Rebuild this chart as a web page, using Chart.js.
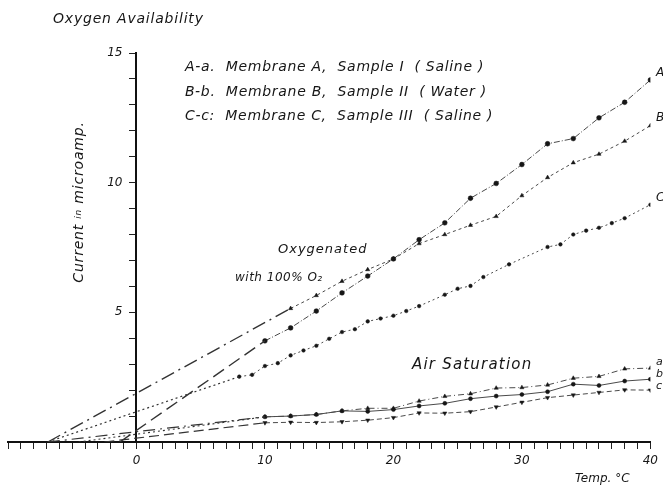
<!DOCTYPE html>
<html><head><meta charset="utf-8">
<script src="https://cdn.jsdelivr.net/npm/chart.js@4.4.1/dist/chart.umd.min.js"></script>
<style>html,body{margin:0;padding:0;background:#fff;}#wrap{width:663px;height:492px;position:relative;}</style>
</head><body><div id="wrap"><canvas id="c"></canvas></div>
<script>
// ---- Oxygenated with 100% O2 (Temp °C -> current µA) ----
const oxyTempsA = [10,12,14,16,18,20,22,24,26,28,30,32,34,36,38,40];
const oxyCurrentA = [3.9,4.4,5.05,5.75,6.4,7.06,7.8,8.45,9.4,9.97,10.7,11.5,11.7,12.5,13.1,13.96];
const oxyTempsB = [12,14,16,18,20,22,24,26,28,30,32,34,36,38,40];
const oxyCurrentB = [5.15,5.65,6.2,6.65,7.06,7.65,8.0,8.36,8.7,9.5,10.2,10.77,11.1,11.6,12.2];
const oxyTempsC = [8,9,10,11,12,13,14,15,16,17,18,19,20,21,22,24,25,26,27,29,32,33,34,35,36,37,38,40];
const oxyCurrentC = [2.52,2.59,2.93,3.04,3.34,3.53,3.71,3.98,4.24,4.35,4.65,4.76,4.87,5.05,5.24,5.68,5.91,6.02,6.36,6.85,7.52,7.62,8.0,8.15,8.26,8.44,8.63,9.15];

// ---- Air saturation ----
const airTemps = [10,12,14,16,18,20,22,24,26,28,30,32,34,36,38,40];
const airCurrentA = [0.97,1.0,1.06,1.2,1.3,1.3,1.58,1.76,1.86,2.08,2.1,2.2,2.46,2.53,2.82,2.85];
const airCurrentB = [0.97,1.0,1.06,1.2,1.18,1.25,1.39,1.49,1.67,1.77,1.83,1.94,2.23,2.18,2.35,2.42];
const airCurrentC = [0.74,0.76,0.75,0.78,0.84,0.94,1.12,1.11,1.17,1.35,1.53,1.71,1.81,1.91,2.01,2.0];

// ---- Extrapolated lines (to zero current) ----
const extrapOxyATemps = [-1.3, 10];  const extrapOxyACurrent = [0, 3.9];
const extrapOxyBTemps = [-6.9, 12];  const extrapOxyBCurrent = [0, 5.15];
const extrapOxyCTemps = [-6.9, 8];   const extrapOxyCCurrent = [0, 2.52];
const extrapAirATemps = [-6.9, 10];  const extrapAirACurrent = [0, 0.97];
const extrapAirBTemps = [-4.5, 10];  const extrapAirBCurrent = [0, 0.97];
const extrapAirCTemps = [-2.5, 10];  const extrapAirCCurrent = [0, 0.74];

// ---- Axis tick labels ----
const xTickLabels = [0, 10, 20, 30, 40];
const yTickLabels = [5, 10, 15];

const pts = (xs, ys) => xs.map((x, i) => ({x, y: ys[i]}));
const INK = '#161616';
const FONT = '"DejaVu Sans", sans-serif';

function series(xs, ys, style, radius, dash, rot) {
  return { data: pts(xs, ys), showLine: true, borderColor: '#4a4a4a', borderWidth: 1,
    borderDash: dash, pointStyle: style, pointRadius: radius, pointRotation: rot || 0,
    pointBackgroundColor: INK, pointBorderColor: INK, pointBorderWidth: 0.5 };
}
function extrap(xs, ys, dash, w) {
  return { data: pts(xs, ys), showLine: true, borderColor: '#333', borderWidth: w,
    borderDash: dash, pointRadius: 0 };
}

const datasets = [
  extrap(extrapOxyATemps, extrapOxyACurrent, [13, 6], 1.4),
  extrap(extrapOxyBTemps, extrapOxyBCurrent, [14, 5, 2, 5], 1.4),
  extrap(extrapOxyCTemps, extrapOxyCCurrent, [2, 3], 1.2),
  extrap(extrapAirATemps, extrapAirACurrent, [12, 5, 2, 5], 1.2),
  extrap(extrapAirBTemps, extrapAirBCurrent, [2, 3], 1.1),
  extrap(extrapAirCTemps, extrapAirCCurrent, [10, 5], 1.2),
  series(oxyTempsA, oxyCurrentA, 'circle', 2.4, [6, 2, 1, 2]),
  series(oxyTempsB, oxyCurrentB, 'triangle', 2.4, [3, 3]),
  series(oxyTempsC, oxyCurrentC, 'circle', 1.8, [2, 3]),
  series(airTemps, airCurrentA, 'triangle', 2.4, [6, 3, 1, 3]),
  series(airTemps, airCurrentB, 'circle', 2.0, []),
  series(airTemps, airCurrentC, 'triangle', 2.4, [5, 3], 180),
];

const annotations = [
  {text: 'Oxygen Availability', x: 53, y: 19, size: 14, sp: 0.8},
  {text: 'A-a.  Membrane A,  Sample I  ( Saline )', x: 185, y: 67, size: 14, sp: 0.7},
  {text: 'B-b.  Membrane B,  Sample II  ( Water )', x: 185, y: 92, size: 14, sp: 0.7},
  {text: 'C-c:  Membrane C,  Sample III  ( Saline )', x: 185, y: 116, size: 14, sp: 0.7},
  {text: 'Oxygenated', x: 278, y: 250, size: 13, sp: 1},
  {text: 'with 100% O₂', x: 235, y: 278, size: 12, sp: 0.5},
  {text: 'Air Saturation', x: 412, y: 365, size: 15, sp: 1.2},
  {text: 'Temp. °C', x: 575, y: 479, size: 12, sp: 0},
  {text: 'A', x: 656, y: 73, size: 12, sp: 0},
  {text: 'B', x: 656, y: 118, size: 12, sp: 0},
  {text: 'C', x: 656, y: 198, size: 12, sp: 0},
  {text: 'a', x: 656, y: 362, size: 11, sp: 0},
  {text: 'b', x: 656, y: 374, size: 11, sp: 0},
  {text: 'c', x: 656, y: 386, size: 11, sp: 0},
];

const textPlugin = {
  id: 'freeText',
  afterDraw(chart) {
    const ctx = chart.ctx;
    const xs = chart.scales.x, ys = chart.scales.y;
    ctx.save();
    ctx.fillStyle = INK;
    ctx.textBaseline = 'middle';
    ctx.textAlign = 'left';
    for (const t of annotations) {
      ctx.font = `italic ${t.size}px ${FONT}`;
      ctx.letterSpacing = t.sp + 'px';
      ctx.fillText(t.text, t.x, t.y);
    }
    // y tick labels, placed through the scales
    ctx.textAlign = 'right';
    ctx.letterSpacing = '0px';
    ctx.font = `italic 12px ${FONT}`;
    const axisX = xs.getPixelForValue(0);
    for (const v of yTickLabels) ctx.fillText(String(v), axisX - 14, ys.getPixelForValue(v));
    // rotated y-axis title with small "in"
    ctx.textAlign = 'left';
    ctx.letterSpacing = '0.8px';
    const parts = [['Current ', 14], ['in', 9], [' microamp.', 14]];
    let total = 0;
    for (const [s, f] of parts) { ctx.font = `italic ${f}px ${FONT}`; total += ctx.measureText(s).width; }
    ctx.translate(79, 202);
    ctx.rotate(-Math.PI / 2);
    let cx = -total / 2;
    for (const [s, f] of parts) {
      ctx.font = `italic ${f}px ${FONT}`;
      ctx.fillText(s, cx, 0);
      cx += ctx.measureText(s).width;
    }
    ctx.restore();
  }
};

new Chart(document.getElementById('c'), {
  type: 'scatter',
  data: { datasets },
  plugins: [textPlugin],
  options: {
    responsive: true, maintainAspectRatio: false, animation: false,
    layout: { padding: { top: 53, left: 8, right: 10, bottom: 0 } },
    plugins: { legend: { display: false }, tooltip: { enabled: false }, title: { display: false } },
    scales: {
      x: {
        type: 'linear', min: -10, max: 40, position: 'bottom',
        afterFit: (s) => { s.height = 50; },
        ticks: { stepSize: 1, autoSkip: false, maxRotation: 0, padding: 5, color: INK,
          font: { family: FONT, style: 'italic', size: 12 },
          callback: (v) => xTickLabels.includes(v) ? String(v) : '' },
        grid: { drawOnChartArea: false, drawTicks: true, tickLength: 7, color: '#222', lineWidth: 1 },
        border: { display: true, color: '#111', width: 2 }
      },
      y: {
        type: 'linear', min: 0, max: 15, position: { x: 0 },
        ticks: { stepSize: 1, autoSkip: false, color: INK, callback: () => '' },
        grid: { drawOnChartArea: false, drawTicks: true, tickLength: 6, color: '#222', lineWidth: 1 },
        border: { display: true, color: '#111', width: 2 }
      }
    }
  }
});
</script></body></html>
